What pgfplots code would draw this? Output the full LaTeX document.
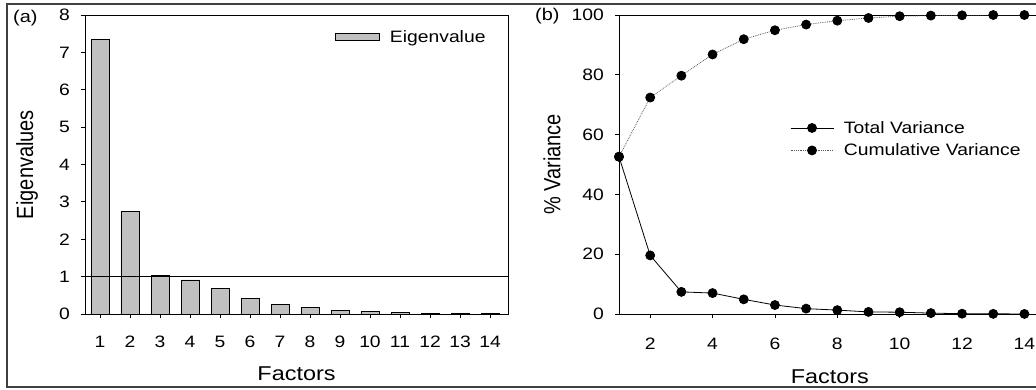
\documentclass[border=0pt]{standalone}
\usepackage{fontspec}
\setmainfont[FakeStretch=1.17]{Liberation Sans}
\usepackage{graphicx}
\usepackage{pgfplots}
\pgfplotsset{compat=1.18}
\definecolor{barfill}{HTML}{C0C0C0}
\newcommand{\labfont}{\fontsize{20}{22}\selectfont}
\newcommand{\ylab}[1]{\scalebox{0.855}[1.17]{\labfont #1}}
\pgfplotsset{
  /pgf/number format/assume math mode=true,
  common/.style={
    scale only axis, anchor=south west,
    axis line style={black, line width=0.9pt},
    tick style={black, line width=0.8pt},
    tick align=outside, major tick length=4pt,
    xtick pos=bottom, ytick pos=left,
    ticklabel style={font=\fontsize{16.5}{18}\selectfont},
    yticklabel style={inner sep=0pt, anchor=east, xshift=-11pt},
    xlabel style={anchor=center},
    ylabel style={anchor=center},
    clip marker paths=false,
  }
}
\begin{document}
\begin{tikzpicture}
\useasboundingbox (0pt,0pt) rectangle (1036pt,389pt);
\clip (0pt,0pt) rectangle (1036pt,389pt);
\draw[line width=1.3pt, black!75] (7pt,2pt) rectangle (1100pt,385pt);

\begin{axis}[common,
  at={(85pt,75pt)}, width=423pt, height=299pt,
  xmin=0.5, xmax=14.6, ymin=0, ymax=8,
  xtick={1,...,14}, ytick={0,...,8},
  xticklabel style={inner sep=0pt, anchor=north, yshift=-18pt},
  xlabel={\labfont Factors}, ylabel={\ylab{Eigenvalues}},
  xlabel style={at={(axis description cs:0.5,-0.199)}},
  ylabel style={at={(axis description cs:-0.137,0.5)}},
  legend style={at={(axis description cs:0.591,0.955)}, anchor=north west,
    draw=none, fill=none, inner sep=0pt, font=\fontsize{16.5}{18}\selectfont,
    legend cell align=left},
  legend image code/.code={\draw[fill=barfill, draw=black, line width=0.8pt] (0pt,-3.5pt) rectangle (44pt,3.5pt); \path (52pt,0pt);},
]
\addplot[ybar, bar width=0.6, fill=barfill, draw=black, line width=0.8pt]
  coordinates {(1,7.35) (2,2.75) (3,1.03) (4,0.91) (5,0.69) (6,0.42) (7,0.26)
               (8,0.18) (9,0.10) (10,0.07) (11,0.045) (12,0.02) (13,0.005) (14,0.004)};
\addlegendentry{Eigenvalue}
\addplot[black, line width=0.8pt, sharp plot, forget plot] coordinates {(0.5,1) (14.6,1)};
\end{axis}

\begin{axis}[common,
  at={(619pt,75pt)}, width=421pt, height=299pt,
  xmin=1, xmax=14.5, ymin=0, ymax=100,
  xtick={2,4,...,14}, ytick={0,20,...,100},
  xticklabel style={inner sep=0pt, anchor=north, yshift=-20pt},
  xlabel={\labfont Factors}, ylabel={\ylab{\% Variance}},
  xlabel style={at={(axis description cs:0.501,-0.211)}},
  ylabel style={at={(axis description cs:-0.159,0.5)}},
  legend style={at={(axis description cs:0.406,0.652)}, anchor=north west,
    draw=none, fill=none, inner sep=0pt, font=\fontsize{16.5}{18}\selectfont,
    legend cell align=left, row sep=5pt},
  legend image code/.code={\draw[mark repeat=2, mark phase=2, #1] plot coordinates {(0pt,0pt) (21.5pt,0pt) (43pt,0pt)}; \path (51pt,0pt);},
]
\addplot[black, line width=0.8pt, mark=*, mark size=4.5pt, mark options={solid, fill=black}]
  coordinates {(1,52.6) (2,19.6) (3,7.4) (4,7.0) (5,4.9) (6,3.0) (7,1.8)
               (8,1.3) (9,0.7) (10,0.6) (11,0.3) (12,0.1) (13,0.05) (14,0.02)};
\addlegendentry{Total Variance}
\addplot[black!65, densely dotted, line width=0.8pt, mark=*, mark size=4.5pt, mark options={solid, fill=black, draw=black}]
  coordinates {(1,52.6) (2,72.4) (3,79.7) (4,86.8) (5,91.9) (6,94.9) (7,96.8)
               (8,98.1) (9,99.0) (10,99.6) (11,99.8) (12,99.9) (13,100) (14,100)};
\addlegendentry{Cumulative Variance}
\end{axis}

\node[anchor=west, inner sep=0pt, font=\fontsize{17}{19}\selectfont] at (13pt,370.5pt) {(a)};
\node[anchor=west, inner sep=0pt, font=\fontsize{17}{19}\selectfont] at (535pt,372.5pt) {(b)};
\end{tikzpicture}
\end{document}
